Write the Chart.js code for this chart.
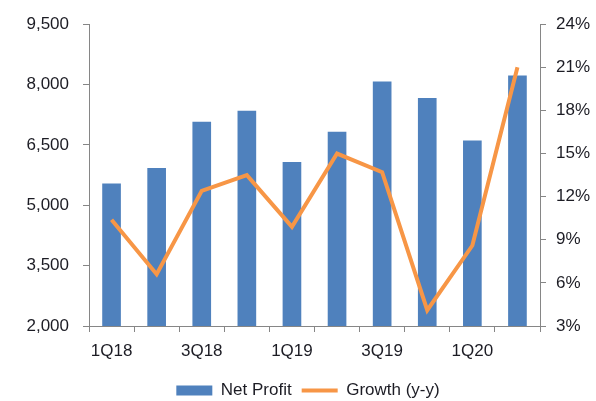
<!DOCTYPE html>
<html>
<head>
<meta charset="utf-8">
<script src="https://cdn.jsdelivr.net/npm/chart.js@4.4.1/dist/chart.umd.min.js"></script>
<style>
  html, body { margin: 0; padding: 0; background: #fff; }
  #wrap { width: 596px; height: 401px; }
</style>
</head>
<body>
<div id="wrap"><canvas id="chart"></canvas></div>
<script>
const quarters = ['1Q18', '2Q18', '3Q18', '4Q18', '1Q19', '2Q19', '3Q19', '4Q19', '1Q20', '2Q20'];
const netProfit = [5530, 5920, 7070, 7340, 6070, 6820, 8070, 7660, 6600, 8220];
const growthPct = [10.4, 6.6, 12.4, 13.5, 9.9, 15.0, 13.7, 4.1, 8.6, 21.0];
const profitTicks = { min: 2000, max: 9500, step: 1500 };
const growthTicks = { min: 3, max: 24, step: 3 };

const BLUE = '#4f81bd';
const ORANGE = '#f79646';
const AXIS = '#868686';
const TEXT = '#1c1c24';
const FONT = { family: '"Liberation Sans", Arial, sans-serif', size: 17 };

new Chart(document.getElementById('chart'), {
    type: 'bar',
    data: {
        labels: quarters,
        datasets: [{
            type: 'bar',
            label: 'Net Profit',
            data: netProfit,
            backgroundColor: BLUE,
            borderWidth: 0,
            barThickness: 18,
            yAxisID: 'y',
            order: 2
        }, {
            type: 'line',
            label: 'Growth (y-y)',
            data: growthPct,
            borderColor: ORANGE,
            backgroundColor: ORANGE,
            borderWidth: 4,
            pointRadius: 0,
            tension: 0,
            yAxisID: 'y1',
            order: 1
        }]
    },
    options: {
        responsive: true,
        maintainAspectRatio: false,
        animation: false,
        layout: { padding: { left: 20, right: 0, top: 16, bottom: -8 } },
        plugins: {
            tooltip: { enabled: false },
            legend: {
                position: 'bottom',
                labels: {
                    usePointStyle: true,
                    pointStyleWidth: 36,
                    boxHeight: 10,
                    padding: 10,
                    color: TEXT,
                    font: FONT,
                    sort: (a, b) => a.datasetIndex - b.datasetIndex,
                    generateLabels(chart) {
                        const items = Chart.defaults.plugins.legend.labels.generateLabels(chart);
                        items.forEach(it => {
                            if (it.datasetIndex === 0) {
                                it.pointStyle = 'rect';
                                it.lineWidth = 0;
                            } else {
                                it.pointStyle = 'line';
                                it.lineWidth = 4;
                                it.strokeStyle = ORANGE;
                            }
                        });
                        return items;
                    }
                }
            }
        },
        scales: {
            x: {
                grid: { display: true, drawOnChartArea: false, offset: true, tickLength: 6, color: AXIS },
                border: { color: AXIS },
                ticks: {
                    color: TEXT, font: FONT, padding: 9, maxRotation: 0, autoSkip: false,
                    callback(v, i) { return i % 2 === 0 ? quarters[i] : ''; }
                },
                afterFit(scale) { scale.height = 46; }
            },
            y: {
                position: 'left',
                min: profitTicks.min, max: profitTicks.max,
                grid: { drawOnChartArea: false, tickLength: 6, color: AXIS },
                border: { color: AXIS },
                ticks: {
                    stepSize: profitTicks.step, color: TEXT, font: FONT, padding: 14,
                    callback: v => v.toLocaleString('en-US')
                },
                afterFit(scale) { scale.width = 69; }
            },
            y1: {
                position: 'right',
                min: growthTicks.min, max: growthTicks.max,
                grid: { drawOnChartArea: false, tickLength: 6, color: AXIS },
                border: { color: AXIS },
                ticks: {
                    stepSize: growthTicks.step, color: TEXT, font: FONT, padding: 10,
                    callback: v => v + '%'
                },
                afterFit(scale) { scale.width = 56; }
            }
        }
    }
});
</script>
</body>
</html>
